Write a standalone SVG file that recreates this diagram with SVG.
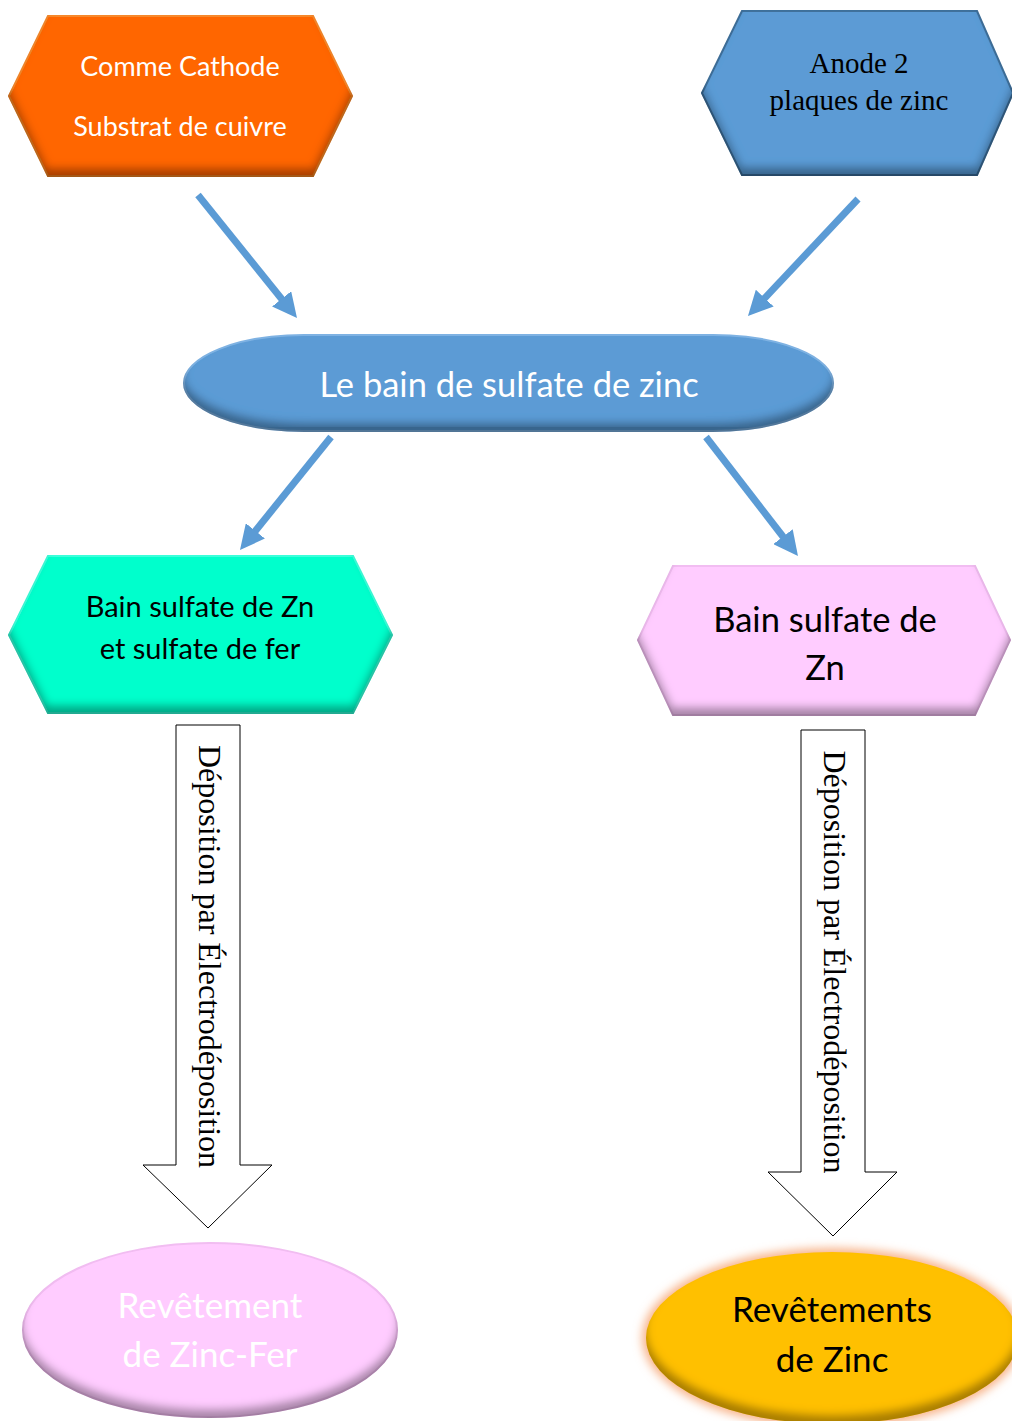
<svg xmlns="http://www.w3.org/2000/svg" width="1012" height="1421" viewBox="0 0 1012 1421">
<defs>
<filter id="inner" x="-5%" y="-5%" width="110%" height="110%">
<feGaussianBlur in="SourceAlpha" stdDeviation="4"/>
<feOffset dy="-9" result="ob"/>
<feComposite in="SourceAlpha" in2="ob" operator="out" result="inv"/>
<feFlood flood-color="#000" flood-opacity="0.6"/>
<feComposite in2="inv" operator="in" result="shadow"/>
<feMerge><feMergeNode in="SourceGraphic"/><feMergeNode in="shadow"/></feMerge>
</filter>
<filter id="glow" x="-20%" y="-20%" width="140%" height="140%">
<feGaussianBlur stdDeviation="5"/>
</filter>
<marker id="ah" viewBox="0 0 10 10" markerWidth="3.5" markerHeight="3.5" refX="2" refY="5" orient="auto">
<path d="M0,0 L10,5 L0,10 z" fill="#5B9BD5"/>
</marker>
</defs>
<style>
.sans{font-family:Lato,"Open Sans","Liberation Sans",sans-serif;}
.serif{font-family:"Liberation Serif","Times New Roman",serif;}
.conn{stroke:#5B9BD5;stroke-width:7;fill:none;marker-end:url(#ah);}
.blk{fill:#fff;stroke:#000;stroke-width:1;}
.sh{filter:url(#inner);}
</style>

<g id="cathode">
<polygon class="sh" points="48,16 313,16 352,96 313,176 48,176 9,96" fill="#FF6600" stroke="#F7892E" stroke-width="2"/>
<text class="sans" x="180" y="76" font-size="27" fill="#fff" text-anchor="middle">Comme Cathode</text>
<text class="sans" x="180" y="136" font-size="27" fill="#fff" text-anchor="middle">Substrat de cuivre</text>
</g>

<g id="anode">
<polygon class="sh" points="742,11 977,11 1013,93 977,175 742,175 702,93" fill="#5B9BD5" stroke="#41719C" stroke-width="2"/>
<text class="serif" x="859" y="73" font-size="29" fill="#000" text-anchor="middle">Anode 2</text>
<text class="serif" x="859" y="110" font-size="29" fill="#000" text-anchor="middle">plaques de zinc</text>
</g>

<g id="bain">
<rect class="sh" x="184" y="335" width="649" height="96" rx="120" ry="48" fill="#5B9BD5" stroke="#7FB2E3" stroke-width="2"/>
<text class="sans" x="509" y="397" font-size="34.5" fill="#fff" text-anchor="middle">Le bain de sulfate de zinc</text>
</g>

<g id="bain-zn-fer">
<polygon class="sh" points="48,556 353,556 392,635 353,713 48,713 9,635" fill="#00FFCC" stroke="#3DFFDA" stroke-width="2"/>
<text class="sans" x="200" y="617" font-size="29" fill="#000" text-anchor="middle">Bain sulfate de Zn</text>
<text class="sans" x="200" y="659" font-size="29" fill="#000" text-anchor="middle">et sulfate de fer</text>
</g>

<g id="bain-zn">
<polygon class="sh" points="673,566 975,566 1010,640 975,715 673,715 638,640" fill="#FFCCFF" stroke="#F2BDF2" stroke-width="2"/>
<text class="sans" x="825" y="632" font-size="34.5" fill="#000" text-anchor="middle">Bain sulfate de</text>
<text class="sans" x="825" y="680" font-size="34.5" fill="#000" text-anchor="middle">Zn</text>
</g>

<g id="depo-left">
<polygon class="blk" points="176,725 240,725 240,1165 272,1165 208,1228 143,1165 176,1165"/>
<text class="serif" transform="translate(199,956.5) rotate(90)" x="0" y="0" font-size="32" fill="#000" text-anchor="middle">Déposition par Électrodéposition</text>
</g>

<g id="depo-right">
<polygon class="blk" points="801,730 865,730 865,1172 897,1172 833,1236 768,1172 801,1172"/>
<text class="serif" transform="translate(824,962) rotate(90)" x="0" y="0" font-size="32" fill="#000" text-anchor="middle">Déposition par Électrodéposition</text>
</g>

<g id="rev-zinc-fer">
<ellipse class="sh" cx="210" cy="1330" rx="187" ry="87" fill="#FFCCFF" stroke="#F2BDF2" stroke-width="2"/>
<text class="sans" x="210" y="1318" font-size="35" fill="#fff" text-anchor="middle">Revêtement</text>
<text class="sans" x="210" y="1367" font-size="35" fill="#fff" text-anchor="middle">de Zinc-Fer</text>
</g>

<g id="rev-zinc">
<ellipse cx="832" cy="1338" rx="190" ry="90" fill="#F8B48A" filter="url(#glow)"/>
<ellipse class="sh" cx="832" cy="1338" rx="186" ry="86" fill="#FFC000"/>
<text class="sans" x="832" y="1322" font-size="35" fill="#000" text-anchor="middle">Revêtements</text>
<text class="sans" x="832" y="1372" font-size="35" fill="#000" text-anchor="middle">de Zinc</text>
</g>

<g id="connectors">
<line class="conn" x1="198" y1="195" x2="284.7" y2="302.7"/>
<line class="conn" x1="858" y1="199" x2="761.4" y2="301.7"/>
<line class="conn" x1="331" y1="437" x2="252.3" y2="534.7"/>
<line class="conn" x1="706" y1="437" x2="786" y2="540.5"/>
</g>
</svg>
